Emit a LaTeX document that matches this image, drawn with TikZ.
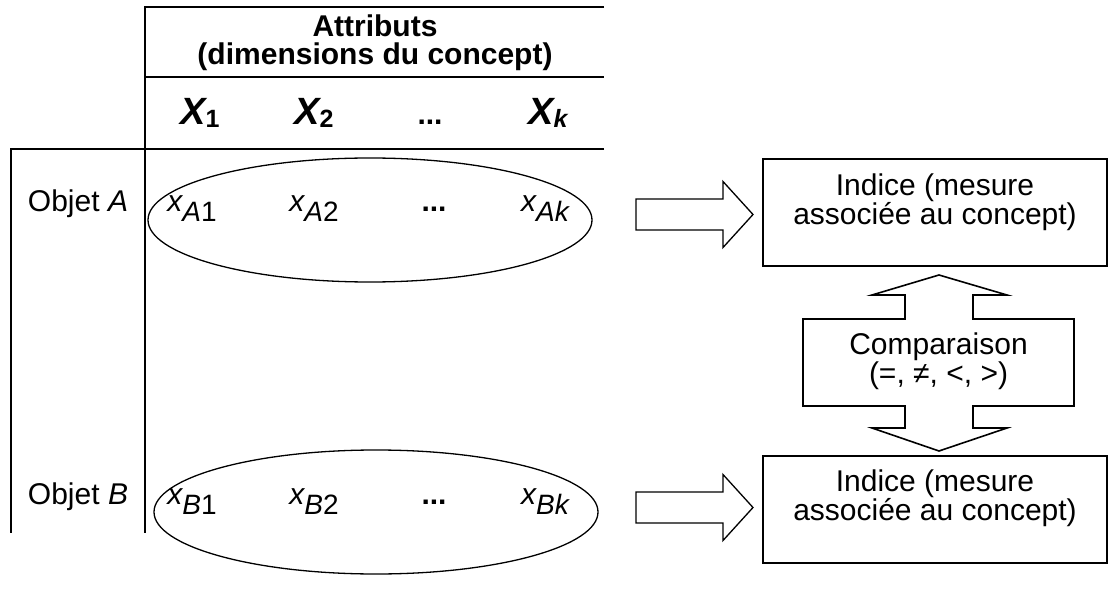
\documentclass[tikz,border=0pt]{standalone}
\usepackage{fontspec}
\setmainfont{Liberation Sans}
\usetikzlibrary{positioning, shapes.geometric}

% lowered subscripts for the attribute names and values
\newcommand{\hsub}[1]{\raisebox{-1.5pt}{\fontsize{12.5}{12.5}\selectfont #1}}
\newcommand{\vsub}[1]{\raisebox{-5pt}{\fontsize{14}{14}\selectfont #1}}

\begin{document}
\begin{tikzpicture}[x=0.5pt, y=-0.5pt,
    rule/.style={line width=1pt},
    head/.style={font=\bfseries\fontsize{15}{14}\selectfont, align=center, inner sep=0pt},
    attrib/.style={font=\bfseries\itshape\fontsize{19}{19}\selectfont, anchor=base, inner sep=0pt},
    val/.style={font=\itshape\fontsize{15}{15}\selectfont, anchor=base, inner sep=0pt},
    dots/.style={font=\bfseries\fontsize{15}{15}\selectfont, anchor=base, inner sep=0pt},
    obj/.style={font=\fontsize{15}{15}\selectfont, anchor=base, inner sep=0pt},
    grp/.style={draw, ellipse, line width=0.65pt, minimum width=222pt, minimum height=62pt, inner sep=0pt},
    indice/.style={draw, rectangle, line width=1pt, minimum width=172pt, minimum height=53.5pt},
    txt/.style={font=\fontsize{15}{14.5}\selectfont, align=center, inner sep=0pt},
    fatarrow/.pic={
      \draw[line width=0.65pt] (0,-15.5) -- (87,-15.5) -- (87,-33) -- (117,0)
        -- (87,33) -- (87,15.5) -- (0,15.5) -- cycle;
    }
  ]
  \useasboundingbox (0,0) rectangle (1108,593);

  % table frame
  \draw[rule] (604,7) -- (145,7) -- (145,533);
  \draw[rule] (145,77) -- (604,77);
  \draw[rule] (604,149) -- (11,149) -- (11,533);

  % header
  \node[head] (attr) at (375,43) {Attributs\\(dimensions du concept)};
  \node[attrib] (X1) at (200,125) {X\hsub{\upshape 1}};
  \node[attrib] (X2) at (314,125) {X\hsub{\upshape 2}};
  \node[dots] (Xd) at (430,125) {...};
  \node[attrib] (Xk) at (548,125) {X\hsub{k}};

  % object A
  \node[obj] (oa) at (78,212) {Objet \textit{A}};
  \node[val] (a1) at (192,212) {x\vsub{A\upshape 1}};
  \node[val] (a2) at (314,212) {x\vsub{A\upshape 2}};
  \node[dots] (ad) at (434,212) {...};
  \node[val] (ak) at (545,212) {x\vsub{Ak}};
  \node[grp] (ga) at (370,220) {};

  % object B
  \node[obj] (ob) at (78,504) {Objet \textit{B}};
  \node[val] (b1) at (192,504) {x\vsub{B\upshape 1}};
  \node[val] (b2) at (314,504) {x\vsub{B\upshape 2}};
  \node[dots] (bd) at (434,504) {...};
  \node[val] (bk) at (545,504) {x\vsub{Bk}};
  \node[grp] (gb) at (376,512) {};

  % indices
  \node[indice] (ia) at (935,213) {};
  \node[txt] (ta) at (935,202) {Indice (mesure\\associée au concept)};
  \node[indice] (ib) at (935,509) {};
  \node[txt] (tb) at (935,498) {Indice (mesure\\associée au concept)};

  \pic at (636,214.5) {fatarrow};
  \pic at (636,507.5) {fatarrow};

  % comparison with its double arrow
  \node[txt] (cmp) at (938.5,361) {Comparaison\\(=, ≠, <, >)};
  \draw[line width=0.8pt] (803,319) -- (905,319) -- (905,295) -- (872,295)
    -- (939,275) -- (1007,295) -- (973,295) -- (973,319) -- (1074,319)
    -- (1074,406) -- (973,406) -- (973,428) -- (1007,428) -- (939,451)
    -- (872,428) -- (905,428) -- (905,406) -- (803,406) -- cycle;
\end{tikzpicture}
\end{document}
